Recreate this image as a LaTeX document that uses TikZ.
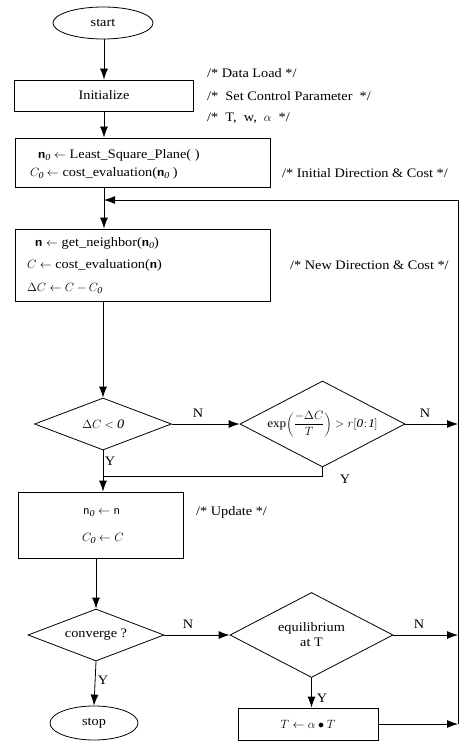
\documentclass[tikz,border=0pt]{standalone}
\usepackage{fontspec}
\setmainfont[FakeStretch=1.1]{Liberation Serif}
\usetikzlibrary{shapes.geometric,arrows.meta}
\newcommand{\bn}{\textsf{\textbf{n}}}
\newcommand{\zs}{_{\mathit{0}}}
\begin{document}
\begin{tikzpicture}[x=1pt,y=-1pt,
  line/.style={line width=0.8pt},
  arr/.style={line width=0.8pt,-{Latex[length=11pt,width=8pt]}},
  box/.style={draw,line width=0.8pt,rectangle,inner sep=0pt},
  dia/.style={draw,line width=0.8pt,diamond,inner sep=0pt,font=\fontsize{13}{15}\selectfont},
  term/.style={draw,line width=0.8pt,ellipse,inner sep=0pt,font=\fontsize{13}{15}\selectfont},
  txt/.style={font=\fontsize{13}{15}\selectfont,inner sep=0pt,anchor=west},
  lbl/.style={font=\fontsize{13}{15}\selectfont,inner sep=0pt}]
\useasboundingbox (0,0) rectangle (469,741);

% terminals and boxes
\node[term,minimum width=100pt,minimum height=32pt] (start) at (103,23) {start};
\node[box,minimum width=179pt,minimum height=31pt,font=\fontsize{13}{15}\selectfont] (init) at (104,95.5) {Initialize};
\node[box,minimum width=255pt,minimum height=49pt] (b2) at (142.5,162.5) {};
\node[box,minimum width=255pt,minimum height=72pt] (b3) at (142.5,265) {};
\node[box,minimum width=165pt,minimum height=66pt] (b4) at (100.5,525) {};
\node[box,minimum width=140pt,minimum height=32pt,font=\fontsize{13}{15}\selectfont] (b5) at (308,724) {$T\leftarrow\alpha\bullet T$};
\node[term,minimum width=88pt,minimum height=34pt] (stop) at (94,723) {stop};

% decisions
\node[dia,minimum width=137pt,minimum height=52pt,aspect=2.6] (d1) at (103,424) {$\Delta C<\mathit{0}$};
\node[dia,minimum width=165pt,minimum height=86pt,aspect=1.9,font=\fontsize{12}{14}\selectfont] (d2) at (322.5,424) {exp$\displaystyle\left(\frac{-\Delta C}{T}\right)>r[\mathit{0}\!:\!\mathit{1}]$};
\node[dia,minimum width=136pt,minimum height=52pt,aspect=2.6] (d3) at (96,635) {converge ?};
\node[dia,minimum width=163pt,minimum height=85pt,aspect=1.9,align=center] (d4) at (311.5,635) {equilibrium\\at T};

% box texts
\node[txt] (t21) at (38,155) {\bn$\zs$ $\leftarrow$ Least\_Square\_Plane( )};
\node[txt] (t22) at (30,173) {$C\zs\leftarrow$ cost\_evaluation(\bn$\zs$ )};
\node[txt] (t31) at (35,243) {\bn{} $\leftarrow$ get\_neighbor(\bn$\zs$)};
\node[txt] (t32) at (27,265) {$C\leftarrow$ cost\_evaluation(\bn)};
\node[txt] (t33) at (27,288) {$\Delta C\leftarrow C-C\zs$};
\node[txt] (t41) at (83,513) {\textsf{n}$\zs\leftarrow$ \textsf{n}};
\node[txt] (t42) at (82,538) {$C\zs\leftarrow C$};

% comments
\node[txt] (c1) at (207,73) {/* Data Load */};
\node[txt] (c2) at (207,96) {/*\ \ Set Control Parameter\ \ */};
\node[txt] (c3) at (207,118) {/*\ \ T,\ \ w,\ \ $\alpha$\ \ */};
\node[txt] (c4) at (282,173) {/* Initial Direction \& Cost */};
\node[txt] (c5) at (290,265) {/* New Direction \& Cost */};
\node[txt] (c6) at (196,512) {/* Update */};

% right rail
\coordinate (railtop) at (458,200);
\coordinate (railbot) at (458,724);
\coordinate (ymerge) at (103,476);

% connectors
\draw[arr] (start.south -| init.south) -- (init);
\draw[arr] (init) -- (init.south |- b2.north);
\draw[arr] (init.south |- b2.south) -- (init.south |- b3.north);
\draw[line] (railbot) -- (railtop);
\draw[arr] (railtop) -- (init.south |- railtop);
\draw[arr] (d1.north |- b3.south) -- (d1.north);
\draw[arr] (d1.east) -- (d2.west);
\draw[arr] (d2.east) -- (d2.east -| railtop);
\draw[line] (d2.south) |- (ymerge);
\draw[arr] (d1.south) -- (d1.south |- b4.north);
\draw[arr] (d3.north |- b4.south) -- (d3.north);
\draw[arr] (d3.east) -- (d4.west);
\draw[arr] (d4.east) -- (d4.east -| railtop);
\draw[arr] (d3.south) -- (stop.north);
\draw[arr] (d4.south) -- (d4.south |- b5.north);
\draw[arr] (b5.east |- railbot) -- (railbot);

% branch labels
\node[lbl] (n1) at (198,413) {N};
\node[lbl] (n2) at (425,413) {N};
\node[lbl] (y1) at (110,461) {Y};
\node[lbl] (y2) at (345,479) {Y};
\node[lbl] (n3) at (188,624) {N};
\node[lbl] (n4) at (419,624) {N};
\node[lbl] (y3) at (103,680) {Y};
\node[lbl] (y4) at (322,698) {Y};
\end{tikzpicture}
\end{document}
